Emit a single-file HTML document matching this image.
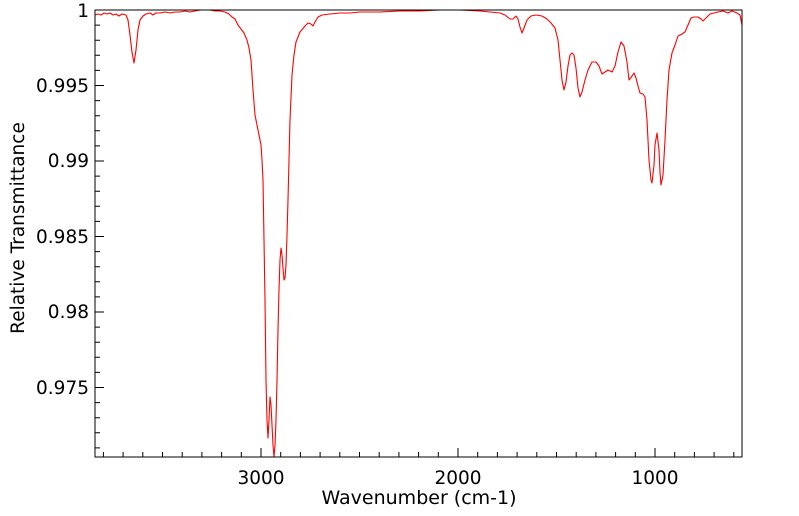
<!DOCTYPE html>
<html><head><meta charset="utf-8"><style>
html,body{margin:0;padding:0;background:#fff;}
svg{display:block;font-family:"DejaVu Sans","Liberation Sans",sans-serif;}
</style></head><body>
<svg width="799" height="516" viewBox="0 0 799 516" xmlns="http://www.w3.org/2000/svg">
<rect width="799" height="516" fill="#fff"/>
<path stroke="#000" stroke-width="1" fill="none" d="
M103.4 457v-5 M123.1 457v-5 M142.8 457v-5 M162.5 457v-5 M182.2 457v-5 M201.9 457v-5 M221.6 457v-5 M241.3 457v-5 M261 457v-9 M280.7 457v-5 M300.4 457v-5 M320.1 457v-5 M339.8 457v-5 M359.5 457v-5 M379.2 457v-5 M398.9 457v-5 M418.6 457v-5 M438.3 457v-5 M458 457v-9 M477.7 457v-5 M497.4 457v-5 M517.1 457v-5 M536.8 457v-5 M556.5 457v-5 M576.2 457v-5 M595.9 457v-5 M615.6 457v-5 M635.3 457v-5 M655 457v-9 M674.7 457v-5 M694.4 457v-5 M714.1 457v-5 M733.8 457v-5
M95 10h9 M95 25.1h5 M95 40.2h5 M95 55.3h5 M95 70.4h5 M95 85.5h9 M95 100.6h5 M95 115.7h5 M95 130.8h5 M95 145.9h5 M95 161h9 M95 176.1h5 M95 191.2h5 M95 206.3h5 M95 221.4h5 M95 236.5h9 M95 251.6h5 M95 266.7h5 M95 281.8h5 M95 296.9h5 M95 312h9 M95 327.1h5 M95 342.2h5 M95 357.3h5 M95 372.4h5 M95 387.5h9 M95 402.6h5 M95 417.7h5 M95 432.8h5 M95 447.9h5"/>
<polyline fill="none" stroke="#ff0000" stroke-width="1.1" stroke-linejoin="round" points="
95,15 98,14 101,15 104,13 107,14 110,13 113,15 116,14 119,16 122,14 126,15 128,20 130,35 132,52 134,63 136,50 138,30 140,20 143,16 146,14 150,13 153,15 156,13 160,13 165,12 170,13 175,12 180,12 185,11 190,12 195,11 200,10 205,10 210,10 215,11 220,11 225,12 229,14 232,17 235,19 238,25 241,29 244,33 247,40 249,48 251,60 253,90 255,115 258,130 261,145 262,160 263,180 264,240 265,300 266,380 267,420 268,438 269,420 270,397 271,405 272,425 273,445 274,457 275,445 276,420 277,380 278,330 279,290 280,260 281,248 282,255 283,268 284,280 285,278 286,265 287,235 288,200 289,160 290,120 292,75 294,55 296,42 300,32 305,26 308,23 311,24 313,26 315,22 318,17 322,15 330,14 340,13 350,13 360,12 380,12 400,11 420,11 440,10 460,10 480,11 490,12 500,13 505,15 510,19 513,19 516,16 518,19 520,27 522,33 524,28 527,20 531,16 536,15 542,16 547,19 551,23 555,28 558,40 560,60 562,80 564,90 566,82 568,66 570,55 572,53 574,55 576,68 578,88 580,97 582,92 585,80 588,70 592,62 596,62 599,66 602,74 605,72 608,70 612,72 615,66 618,52 621,42 624,46 627,62 629,80 632,76 634,73 636,78 638,86 640,93 643,94 645,97 647,120 649,160 651,180 652,183 654,165 655,145 657,133 659,150 660,172 661,185 663,175 665,140 667,100 669,70 672,53 675,45 678,36 682,34 685,32 688,25 691,18 694,17 698,17 701,19 703,21 706,18 710,14 714,13 718,12 723,11 728,13 732,11 737,13 740,15 742,25"/>
<rect x="95" y="10" width="647" height="447" fill="none" stroke="#000" stroke-width="1"/>
<g font-size="18.5" fill="#000" text-anchor="end">
<text x="89" y="17">1</text>
<text x="89" y="92">0.995</text>
<text x="89" y="167">0.99</text>
<text x="89" y="243">0.985</text>
<text x="89" y="318">0.98</text>
<text x="89" y="394">0.975</text>
</g>
<g font-size="18.5" fill="#000" text-anchor="middle">
<text x="261" y="484">3000</text>
<text x="458" y="484">2000</text>
<text x="655" y="484">1000</text>
<text x="419" y="504" font-size="19">Wavenumber (cm-1)</text>
<text transform="translate(24,228) rotate(-90)">Relative Transmittance</text>
</g>
</svg>
</body></html>
